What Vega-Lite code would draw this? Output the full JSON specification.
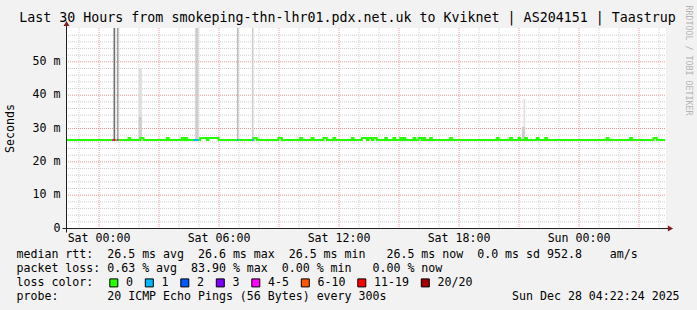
{
  "$schema": "https://vega.github.io/schema/vega-lite/v6.json",
  "width": 600,
  "height": 200,
  "autosize": {"type": "none"},
  "padding": {"left": 66, "top": 28, "right": 31, "bottom": 82},
  "background": "#f2f2f2",
  "title": {
    "text": "Last 30 Hours from smokeping-thn-lhr01.pdx.net.uk to Kviknet | AS204151 | Taastrup",
    "font": "DejaVu Sans Mono",
    "fontSize": 13.3,
    "fontWeight": "normal",
    "color": "#000000",
    "anchor": "middle",
    "frame": "group",
    "dx": -18.5,
    "baseline": "alphabetic",
    "offset": -30
  },
  "datasets": {
    "vgrid": [
      {"t": "2025-12-26T23:00:00Z", "kind": "minor"}, {"t": "2025-12-27T00:00:00Z", "kind": "major"},
      {"t": "2025-12-27T01:00:00Z", "kind": "minor"}, {"t": "2025-12-27T02:00:00Z", "kind": "minor"},
      {"t": "2025-12-27T03:00:00Z", "kind": "major"}, {"t": "2025-12-27T04:00:00Z", "kind": "minor"},
      {"t": "2025-12-27T05:00:00Z", "kind": "minor"}, {"t": "2025-12-27T06:00:00Z", "kind": "major"},
      {"t": "2025-12-27T07:00:00Z", "kind": "minor"}, {"t": "2025-12-27T08:00:00Z", "kind": "minor"},
      {"t": "2025-12-27T09:00:00Z", "kind": "major"}, {"t": "2025-12-27T10:00:00Z", "kind": "minor"},
      {"t": "2025-12-27T11:00:00Z", "kind": "minor"}, {"t": "2025-12-27T12:00:00Z", "kind": "major"},
      {"t": "2025-12-27T13:00:00Z", "kind": "minor"}, {"t": "2025-12-27T14:00:00Z", "kind": "minor"},
      {"t": "2025-12-27T15:00:00Z", "kind": "major"}, {"t": "2025-12-27T16:00:00Z", "kind": "minor"},
      {"t": "2025-12-27T17:00:00Z", "kind": "minor"}, {"t": "2025-12-27T18:00:00Z", "kind": "major"},
      {"t": "2025-12-27T19:00:00Z", "kind": "minor"}, {"t": "2025-12-27T20:00:00Z", "kind": "minor"},
      {"t": "2025-12-27T21:00:00Z", "kind": "major"}, {"t": "2025-12-27T22:00:00Z", "kind": "minor"},
      {"t": "2025-12-27T23:00:00Z", "kind": "minor"}, {"t": "2025-12-28T00:00:00Z", "kind": "major"},
      {"t": "2025-12-28T01:00:00Z", "kind": "minor"}, {"t": "2025-12-28T02:00:00Z", "kind": "minor"},
      {"t": "2025-12-28T03:00:00Z", "kind": "major"}, {"t": "2025-12-28T04:00:00Z", "kind": "minor"}
    ],
    "hgrid": [
      {"v": 2, "kind": "minor"}, {"v": 4, "kind": "minor"}, {"v": 6, "kind": "minor"}, {"v": 8, "kind": "minor"}, {"v": 10, "kind": "major"},
      {"v": 12, "kind": "minor"}, {"v": 14, "kind": "minor"}, {"v": 16, "kind": "minor"}, {"v": 18, "kind": "minor"}, {"v": 20, "kind": "major"},
      {"v": 22, "kind": "minor"}, {"v": 24, "kind": "minor"}, {"v": 26, "kind": "minor"}, {"v": 28, "kind": "minor"}, {"v": 30, "kind": "major"},
      {"v": 32, "kind": "minor"}, {"v": 34, "kind": "minor"}, {"v": 36, "kind": "minor"}, {"v": 38, "kind": "minor"}, {"v": 40, "kind": "major"},
      {"v": 42, "kind": "minor"}, {"v": 44, "kind": "minor"}, {"v": 46, "kind": "minor"}, {"v": 48, "kind": "minor"}, {"v": 50, "kind": "major"},
      {"v": 52, "kind": "minor"}, {"v": 54, "kind": "minor"}, {"v": 56, "kind": "minor"}, {"v": 58, "kind": "minor"}
    ],
    "smoke": [
      {"t1": "2025-12-27T00:45:00Z", "t2": "2025-12-27T00:50:00Z", "lo": 26.4, "hi": 95, "level": "dark"},
      {"t1": "2025-12-27T00:55:00Z", "t2": "2025-12-27T01:00:00Z", "lo": 26.4, "hi": 95, "level": "mid"},
      {"t1": "2025-12-27T02:00:00Z", "t2": "2025-12-27T02:10:00Z", "lo": 26.4, "hi": 33.3, "level": "light"},
      {"t1": "2025-12-27T02:00:00Z", "t2": "2025-12-27T02:10:00Z", "lo": 33.3, "hi": 47.9, "level": "pale"},
      {"t1": "2025-12-27T04:50:00Z", "t2": "2025-12-27T05:00:00Z", "lo": 26.4, "hi": 95, "level": "light"},
      {"t1": "2025-12-27T06:55:00Z", "t2": "2025-12-27T07:00:00Z", "lo": 26.4, "hi": 95, "level": "medium"},
      {"t1": "2025-12-27T07:40:00Z", "t2": "2025-12-27T07:45:00Z", "lo": 26.4, "hi": 95, "level": "light"},
      {"t1": "2025-12-27T21:10:00Z", "t2": "2025-12-27T21:20:00Z", "lo": 26.4, "hi": 30.4, "level": "light"},
      {"t1": "2025-12-27T21:15:00Z", "t2": "2025-12-27T21:20:00Z", "lo": 30.4, "hi": 38.7, "level": "pale"}
    ],
    "median": [
      {"t": "2025-12-26T22:25:00Z", "ms": 26.4},
      {"t": "2025-12-27T01:30:00Z", "ms": 27.0}, {"t": "2025-12-27T01:35:00Z", "ms": 26.4},
      {"t": "2025-12-27T02:05:00Z", "ms": 27.0}, {"t": "2025-12-27T02:15:00Z", "ms": 26.4},
      {"t": "2025-12-27T03:25:00Z", "ms": 27.0}, {"t": "2025-12-27T03:30:00Z", "ms": 26.4},
      {"t": "2025-12-27T04:10:00Z", "ms": 27.0}, {"t": "2025-12-27T04:15:00Z", "ms": 26.4},
      {"t": "2025-12-27T04:20:00Z", "ms": 27.0}, {"t": "2025-12-27T04:25:00Z", "ms": 26.4},
      {"t": "2025-12-27T05:05:00Z", "ms": 27.0}, {"t": "2025-12-27T05:25:00Z", "ms": 26.4},
      {"t": "2025-12-27T05:30:00Z", "ms": 27.0}, {"t": "2025-12-27T06:00:00Z", "ms": 26.4},
      {"t": "2025-12-27T07:45:00Z", "ms": 27.0}, {"t": "2025-12-27T07:55:00Z", "ms": 26.4},
      {"t": "2025-12-27T09:00:00Z", "ms": 27.0}, {"t": "2025-12-27T09:10:00Z", "ms": 26.4},
      {"t": "2025-12-27T10:05:00Z", "ms": 27.0}, {"t": "2025-12-27T10:10:00Z", "ms": 26.4},
      {"t": "2025-12-27T10:40:00Z", "ms": 27.0}, {"t": "2025-12-27T10:45:00Z", "ms": 26.4},
      {"t": "2025-12-27T11:15:00Z", "ms": 27.0}, {"t": "2025-12-27T11:25:00Z", "ms": 26.4},
      {"t": "2025-12-27T11:45:00Z", "ms": 27.0}, {"t": "2025-12-27T11:50:00Z", "ms": 26.4},
      {"t": "2025-12-27T12:40:00Z", "ms": 27.0}, {"t": "2025-12-27T12:45:00Z", "ms": 26.4},
      {"t": "2025-12-27T13:10:00Z", "ms": 27.0}, {"t": "2025-12-27T13:25:00Z", "ms": 26.4},
      {"t": "2025-12-27T13:30:00Z", "ms": 27.0}, {"t": "2025-12-27T13:40:00Z", "ms": 26.4},
      {"t": "2025-12-27T13:45:00Z", "ms": 27.0}, {"t": "2025-12-27T13:55:00Z", "ms": 26.4},
      {"t": "2025-12-27T14:20:00Z", "ms": 27.0}, {"t": "2025-12-27T14:25:00Z", "ms": 26.4},
      {"t": "2025-12-27T14:45:00Z", "ms": 27.0}, {"t": "2025-12-27T14:50:00Z", "ms": 26.4},
      {"t": "2025-12-27T15:05:00Z", "ms": 27.0}, {"t": "2025-12-27T15:10:00Z", "ms": 26.4},
      {"t": "2025-12-27T15:15:00Z", "ms": 27.0}, {"t": "2025-12-27T15:20:00Z", "ms": 26.4},
      {"t": "2025-12-27T15:45:00Z", "ms": 27.0}, {"t": "2025-12-27T15:50:00Z", "ms": 26.4},
      {"t": "2025-12-27T16:00:00Z", "ms": 27.0}, {"t": "2025-12-27T16:10:00Z", "ms": 26.4},
      {"t": "2025-12-27T16:15:00Z", "ms": 27.0}, {"t": "2025-12-27T16:20:00Z", "ms": 26.4},
      {"t": "2025-12-27T16:35:00Z", "ms": 27.0}, {"t": "2025-12-27T16:40:00Z", "ms": 26.4},
      {"t": "2025-12-27T17:35:00Z", "ms": 27.0}, {"t": "2025-12-27T17:40:00Z", "ms": 26.4},
      {"t": "2025-12-27T19:55:00Z", "ms": 27.0}, {"t": "2025-12-27T20:00:00Z", "ms": 26.4},
      {"t": "2025-12-27T20:35:00Z", "ms": 27.0}, {"t": "2025-12-27T20:40:00Z", "ms": 26.4},
      {"t": "2025-12-27T21:00:00Z", "ms": 27.0}, {"t": "2025-12-27T21:05:00Z", "ms": 26.4},
      {"t": "2025-12-27T21:20:00Z", "ms": 27.0}, {"t": "2025-12-27T21:25:00Z", "ms": 26.4},
      {"t": "2025-12-27T21:55:00Z", "ms": 27.0}, {"t": "2025-12-27T22:00:00Z", "ms": 26.4},
      {"t": "2025-12-27T22:20:00Z", "ms": 27.0}, {"t": "2025-12-27T22:25:00Z", "ms": 26.4},
      {"t": "2025-12-28T01:25:00Z", "ms": 27.0}, {"t": "2025-12-28T01:30:00Z", "ms": 26.4},
      {"t": "2025-12-28T02:35:00Z", "ms": 27.0}, {"t": "2025-12-28T02:40:00Z", "ms": 26.4},
      {"t": "2025-12-28T03:45:00Z", "ms": 27.0}, {"t": "2025-12-28T03:55:00Z", "ms": 26.4},
      {"t": "2025-12-28T04:20:00Z", "ms": 26.4}
    ],
    "loss": [
      {"t1": "2025-12-27T00:40:00Z", "t2": "2025-12-27T00:45:00Z", "ms": 26.4, "loss": "4-5"},
      {"t1": "2025-12-27T00:45:00Z", "t2": "2025-12-27T00:50:00Z", "ms": 26.4, "loss": "11-19"},
      {"t1": "2025-12-27T00:55:00Z", "t2": "2025-12-27T01:00:00Z", "ms": 26.4, "loss": "4-5"},
      {"t1": "2025-12-27T04:45:00Z", "t2": "2025-12-27T05:00:00Z", "ms": 26.4, "loss": "1"},
      {"t1": "2025-12-27T06:55:00Z", "t2": "2025-12-27T07:00:00Z", "ms": 26.4, "loss": "1"},
      {"t1": "2025-12-27T07:40:00Z", "t2": "2025-12-27T07:45:00Z", "ms": 26.4, "loss": "1"}
    ],
    "axisext": [
      {"t1": "2025-12-26T22:22:24Z", "t2": "2025-12-26T22:22:24Z", "v1": -1.2, "v2": 62},
      {"t1": "2025-12-26T22:10:24Z", "t2": "2025-12-28T04:31:24Z", "v1": 0, "v2": 0}
    ],
    "arrows": [
      {"t": "2025-12-26T22:22:24Z", "v": 61.5, "dir": "up"},
      {"t": "2025-12-28T04:34:24Z", "v": 0, "dir": "right"}
    ]
  },
  "layer": [
    {
      "data": {"name": "vgrid"},
      "mark": {"type": "rule", "strokeDash": [1, 1], "strokeWidth": 1, "xOffset": 0.5},
      "encoding": {
        "x": {
          "field": "t", "type": "temporal",
          "scale": {"type": "utc", "domain": [1766787744000, 1766895744000], "nice": false},
          "axis": null
        },
        "stroke": {
          "field": "kind", "type": "nominal",
          "scale": {"domain": ["minor", "major"], "range": ["#cfcfcf", "#ec9494"]},
          "legend": null
        }
      }
    },
    {
      "data": {"name": "hgrid"},
      "mark": {"type": "rule", "strokeDash": [1, 1], "strokeWidth": 1, "yOffset": 0.5, "y2Offset": 0.5},
      "encoding": {
        "x": {"value": 0},
        "x2": {"value": "width"},
        "y": {
          "field": "v", "type": "quantitative",
          "scale": {"domain": [0, 60], "nice": false, "zero": false},
          "axis": null
        },
        "stroke": {
          "field": "kind", "type": "nominal",
          "scale": {"domain": ["minor", "major"], "range": ["#cfcfcf", "#ec9494"]},
          "legend": null
        }
      }
    },
    {
      "data": {"name": "smoke"},
      "mark": {"type": "rect", "clip": true},
      "encoding": {
        "x": {"field": "t1", "type": "temporal", "axis": null},
        "x2": {"field": "t2"},
        "y": {"field": "lo", "type": "quantitative", "axis": null},
        "y2": {"field": "hi"},
        "fill": {
          "field": "level", "type": "nominal",
          "scale": {"domain": ["dark", "mid", "medium", "light", "pale"], "range": ["#6f6f6f", "#a0a0a0", "#bdbdbd", "#cdcdcd", "#dedede"]},
          "legend": null
        }
      }
    },
    {
      "data": {"name": "median"},
      "mark": {"type": "line", "interpolate": "step-after", "strokeWidth": 2, "color": "#26ff00", "clip": true},
      "encoding": {
        "x": {"field": "t", "type": "temporal", "axis": null},
        "y": {"field": "ms", "type": "quantitative", "axis": null}
      }
    },
    {
      "data": {"name": "loss"},
      "mark": {"type": "rect", "yOffset": -1, "y2Offset": 1},
      "encoding": {
        "x": {
          "field": "t1", "type": "temporal",
          "axis": {
            "orient": "bottom",
            "values": [1766793600000, 1766815200000, 1766836800000, 1766858400000, 1766880000000],
            "labelExpr": "utcFormat(datum.value, '%a %H:%M')",
            "grid": false, "ticks": false, "domain": true,
            "labelPadding": 4, "labelBaseline": "top", "labelAlign": "center", "labelFlush": false, "labelOverlap": false,
            "title": [
              "median rtt:\u00a0\u00a026.5 ms avg\u00a0\u00a026.6 ms max\u00a0\u00a026.5 ms min\u00a0\u00a0\u00a026.5 ms now\u00a0\u00a00.0 ms sd 952.8\u00a0\u00a0\u00a0\u00a0am/s",
              "packet loss: 0.63 % avg\u00a0\u00a083.90 % max\u00a0\u00a00.00 % min\u00a0\u00a0\u00a00.00 % now",
              "loss color:",
              "probe:\u00a0\u00a0\u00a0\u00a0\u00a0\u00a0\u00a020 ICMP Echo Pings (56 Bytes) every 300s\u00a0\u00a0\u00a0\u00a0\u00a0\u00a0\u00a0\u00a0\u00a0\u00a0\u00a0\u00a0\u00a0\u00a0\u00a0\u00a0\u00a0\u00a0Sun Dec 28 04:22:24 2025"
            ],
            "titleAlign": "left", "titleAnchor": "start", "titleBaseline": "alphabetic", "titleAngle": 0,
            "titleX": -50, "titleY": 29, "titleLineHeight": 14.1, "titleLimit": 1000
          }
        },
        "x2": {"field": "t2"},
        "y": {
          "field": "ms", "type": "quantitative",
          "axis": {
            "orient": "left",
            "values": [0, 10, 20, 30, 40, 50],
            "labelExpr": "datum.value == 0 ? '0\u00a0\u00a0' : datum.value + ' m'",
            "grid": false, "ticks": false, "domain": true,
            "labelPadding": 6, "labelAlign": "right", "labelBaseline": "middle", "labelFlush": false, "labelOverlap": false,
            "title": "Seconds", "titleAngle": 270, "titleX": -55.5, "titleY": 100, "titleAlign": "center", "titleBaseline": "middle"
          }
        },
        "y2": {"field": "ms"},
        "color": {
          "field": "loss", "type": "nominal",
          "scale": {
            "domain": ["0", "1", "2", "3", "4-5", "6-10", "11-19", "20/20"],
            "range": ["#26ff00", "#00b8ff", "#0059ff", "#7e00ff", "#ff00ff", "#ff5500", "#ff0000", "#a10000"]
          },
          "legend": {
            "orient": "none", "legendX": 42, "legendY": 249, "direction": "horizontal", "title": null,
            "symbolType": "square", "symbolSize": 64, "symbolStrokeColor": "#000000", "symbolStrokeWidth": 1, "symbolOpacity": 1,
            "labelFont": "DejaVu Sans Mono", "labelFontSize": 11.6, "labelColor": "#000000", "labelOffset": 6.5, "labelBaseline": "middle",
            "columnPadding": 8.5, "padding": 0
          }
        }
      }
    },
    {
      "data": {"name": "axisext"},
      "mark": {"type": "rule", "color": "#1f1f1f", "strokeWidth": 1, "xOffset": 0.5, "yOffset": 0.5, "x2Offset": 0.5, "y2Offset": 0.5},
      "encoding": {
        "x": {"field": "t1", "type": "temporal", "axis": null},
        "x2": {"field": "t2"},
        "y": {"field": "v1", "type": "quantitative", "axis": null},
        "y2": {"field": "v2"}
      }
    },
    {
      "data": {"name": "arrows"},
      "mark": {"type": "point", "filled": true, "size": 36, "color": "#801f1f", "opacity": 1, "xOffset": 0.5, "yOffset": 0.5},
      "encoding": {
        "x": {"field": "t", "type": "temporal", "axis": null},
        "y": {
          "field": "v", "type": "quantitative",
          "axis": {
            "orient": "right", "labels": false, "ticks": false, "domain": false, "grid": false,
            "title": "RRDTOOL / TOBI OETIKER", "titleFontSize": 8.3, "titleColor": "#b4b4b4",
            "titleAngle": 90, "titleX": 21.5, "titleY": 32, "titleAlign": "center", "titleBaseline": "middle"
          }
        },
        "shape": {
          "field": "dir", "type": "nominal",
          "scale": {"domain": ["up", "right"], "range": ["triangle-up", "triangle-right"]},
          "legend": null
        }
      }
    }
  ],
  "resolve": {
    "axis": {"x": "independent", "y": "independent"},
    "scale": {"color": "independent"}
  },
  "config": {
    "view": {"fill": "#ffffff", "stroke": null},
    "font": "DejaVu Sans Mono",
    "axis": {
      "labelFont": "DejaVu Sans Mono", "labelFontSize": 11.6, "labelColor": "#000000",
      "titleFont": "DejaVu Sans Mono", "titleFontSize": 11.6, "titleFontWeight": "normal", "titleColor": "#000000",
      "domainColor": "#1f1f1f", "domainWidth": 1
    }
  }
}
